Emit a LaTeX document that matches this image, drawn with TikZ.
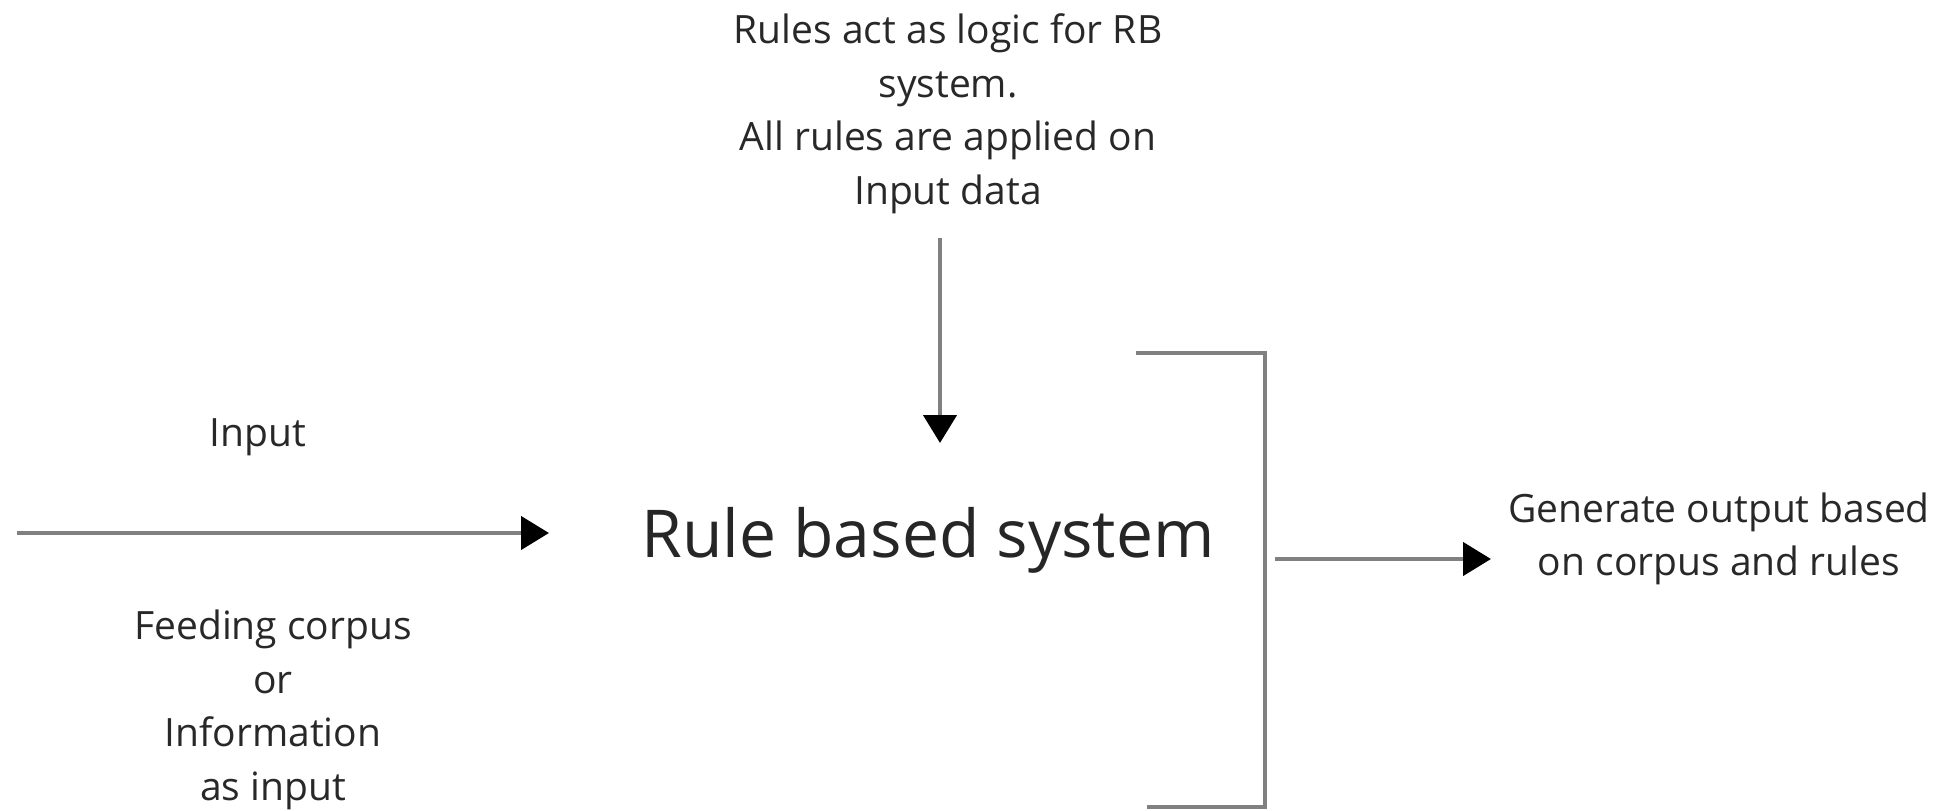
\documentclass[tikz,border=0pt]{standalone}
\usepackage{fontspec}
\setmainfont{Open Sans}
\usetikzlibrary{arrows.meta}
\definecolor{linegray}{RGB}{128,128,128}
\definecolor{textgray}{RGB}{40,40,40}
\begin{document}
\begin{tikzpicture}[x=1pt,y=-1pt,
  txt/.style={align=center,inner sep=0pt,text=textgray,font=\fontsize{39}{53.5}\selectfont},
  bigtxt/.style={inner sep=0pt,text=black!85,font=\fontsize{66}{76}\selectfont},
  wire/.style={draw=linegray,line width=4.5pt},
  arr/.style={wire,-{Triangle[length=28pt,width=33pt,color=black]}}]
\useasboundingbox (0,0) rectangle (1944,811);

% labels
\node[bigtxt] (rbs) at (928,540) {Rule based system};
\node[txt] (inlbl) at (258,437) {Input};
\node[txt] (feed) at (273,710) {Feeding corpus\\or\\Information\\as input};
\node[txt] (rules) at (948,114) {Rules act as logic for RB\\system.\\All rules are applied on\\Input data};
\node[txt] (outlbl) at (1719,539) {Generate output based\\on corpus and rules};

% connector end points
\coordinate (inStart) at (17,533);
\coordinate (inTip) at (549,533);
\coordinate (rulesTail) at (940,238);
\coordinate (rulesTip) at (940,443);
\coordinate (bTop) at (1136,353);
\coordinate (bUp) at (1265,353);
\coordinate (bDown) at (1265,807);
\coordinate (bBot) at (1147,807);
\coordinate (outStart) at (1275,559);
\coordinate (outTip) at (1491,559);

% arrows
\draw[arr] (inStart) -- (inTip);
\draw[arr] (rulesTail) -- (rulesTip);
\draw[arr] (outStart) -- (outTip);

% output bracket
\draw[wire] (bTop) -- (bUp) -- (bDown) -- (bBot);
\end{tikzpicture}
\end{document}
